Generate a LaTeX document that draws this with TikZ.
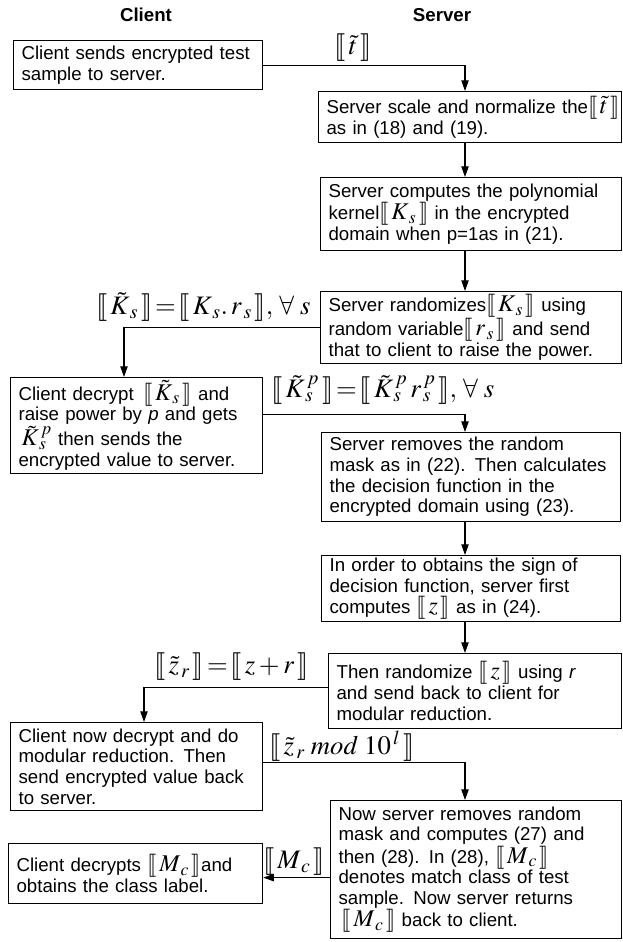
\documentclass[tikz,border=0pt]{standalone}
\usepackage{mathptmx}
\usepackage{stmaryrd}
\usepackage[no-math]{fontspec}
\setmainfont{Liberation Sans}
\usetikzlibrary{arrows.meta}

\newcommand{\enc}[1]{\llbracket\mkern2mu #1\mkern2mu\rrbracket}
\newcommand{\mathsz}{\fontsize{18}{15.5}\selectfont}
\newcommand{\encb}[1]{{\mathsz$\enc{#1}$}}

\tikzset{
  stepbox/.style={draw, line width=0.9pt, align=left, anchor=north west,
    inner xsep=6pt, inner ysep=2pt, font=\fontsize{14}{15.5}\selectfont},
  flow/.style={line width=0.8pt, -{Triangle[length=8pt,width=5.5pt]}},
  msg/.style={inner sep=1pt, font=\fontsize{20}{20}\selectfont},
  title/.style={font=\fontsize{14}{16.5}\selectfont\bfseries}
}

\begin{document}
\begin{tikzpicture}[x=0.75pt,y=-0.75pt]
  \useasboundingbox (0,0) rectangle (622,942);
  %\draw[step=50,gray,very thin] (0,0) grid (622,942);
  \coordinate (col) at (465,0);
  \coordinate (lcol) at (124,0);
  \coordinate (lcolb) at (144,0);

  \node[title] (client) at (146,15) {Client};
  \node[title] (server) at (442,15) {Server};

  % client side
  \node[stepbox, text width=174.75pt, minimum height=36.75pt] (send) at (13,40)
    {Client sends encrypted test\\sample to server.};
  \node[stepbox, text width=177pt, minimum height=62.25pt] (power) at (10,377)
    {Client decrypt \,\encb{\tilde K_{\,s}} and\\raise power by \textit{p} and gets\\\,{\mathsz$\tilde K^{\,p}_{\,s}$} then sends the\\encrypted value to server.};
  \node[stepbox, text width=177pt, minimum height=66pt] (modred) at (10,722)
    {Client now decrypt and do\\modular reduction. Then\\send encrypted value back\\to server.};
  \node[stepbox, text width=178.5pt, minimum height=45pt] (label) at (8,843)
    {Client decrypts \encb{M_{\,c}}and\\obtains the class label.};

  % server side
  \node[stepbox, text width=215.25pt, minimum height=38.25pt] (scale) at (318,91)
    {\mbox{Server scale and normalize the\encb{\tilde t}}\\as in (18) and (19).};
  \node[stepbox, text width=213.75pt, minimum height=54.75pt] (kernel) at (320,177)
    {Server computes the polynomial\\kernel\encb{K_{\,s}} in the encrypted\\domain when p=1as in (21).};
  \node[stepbox, text width=213.75pt, minimum height=49.5pt] (rand) at (320,291)
    {\mbox{Server randomizes\encb{K_{\,s}} using}\\\mbox{random variable\encb{r_{\,s}} and send}\\that to client to raise the power.};
  \node[stepbox, text width=212.25pt, minimum height=66.75pt] (decf) at (321,432)
    {Server removes the random\\mask as in (22). Then calculates\\the decision function in the\\encrypted domain using (23).};
  \node[stepbox, text width=212.25pt, minimum height=49.5pt] (sign) at (321,555)
    {In order to obtains the sign of\\decision function, server first\\computes \encb{z} as in (24).};
  \node[stepbox, text width=207.75pt, minimum height=56.25pt] (randz) at (328,653)
    {Then randomize \encb{z} using \textit{r}\\and send back to client for\\modular reduction.};
  \node[stepbox, text width=206.25pt, minimum height=103.5pt] (match) at (330,800)
    {Now server removes random\\mask and computes (27) and\\then (28). In (28), \encb{M_{\,c}}\\denotes match class of test\\sample. Now server returns\\\,\encb{M_{\,c}} back to client.};

  % messages
  \node[msg] (tlab) at (353,48) {$\enc{\tilde t}$};
  \node[msg, anchor=east] (klab) at (312,307)
    {$\enc{\tilde K_{\,s}}\!=\!\enc{K_{\,s}.\,r_{\,s}},\,\forall\;s$};
  \node[msg, anchor=west] (kplab) at (270,390)
    {$\enc{\tilde K^{\,p}_{\,s}}\!=\!\enc{\tilde K^{\,p}_{\,s}\,r^{\,p}_{\,s}},\,\forall\;s$};
  \node[msg, anchor=east] (zlab) at (310,667) {$\enc{\tilde z_{\,r}}\!=\!\enc{z+r}$};
  \node[msg, anchor=west] (modlab) at (268,746) {$\enc{\tilde z_{\,r}\;mod\;10^{\,l}}$};
  \node[msg] (mlab) at (294,862) {$\enc{M_{\,c}}$};

  % connectors
  \draw[flow] (send.east) -| (scale.north -| col);
  \draw[flow] (scale.south -| col) -- (kernel.north -| col);
  \draw[flow] (kernel.south -| col) -- (rand.north -| col);
  \draw[flow] (rand.west) -| (power.north -| lcol);
  \draw[flow] ([yshift=8pt]power.east) -| (decf.north -| col);
  \draw[flow] (decf.south -| col) -- (sign.north -| col);
  \draw[flow] (sign.south -| col) -- (randz.north -| col);
  \draw[flow] ([yshift=3pt]randz.west) -| (modred.north -| lcolb);
  \draw[flow] ([yshift=3pt]modred.east) -| (match.north -| col);
  \draw[flow] ([yshift=-3pt]label.east -| match.west) -- ([yshift=-3pt]label.east);
\end{tikzpicture}
\end{document}
